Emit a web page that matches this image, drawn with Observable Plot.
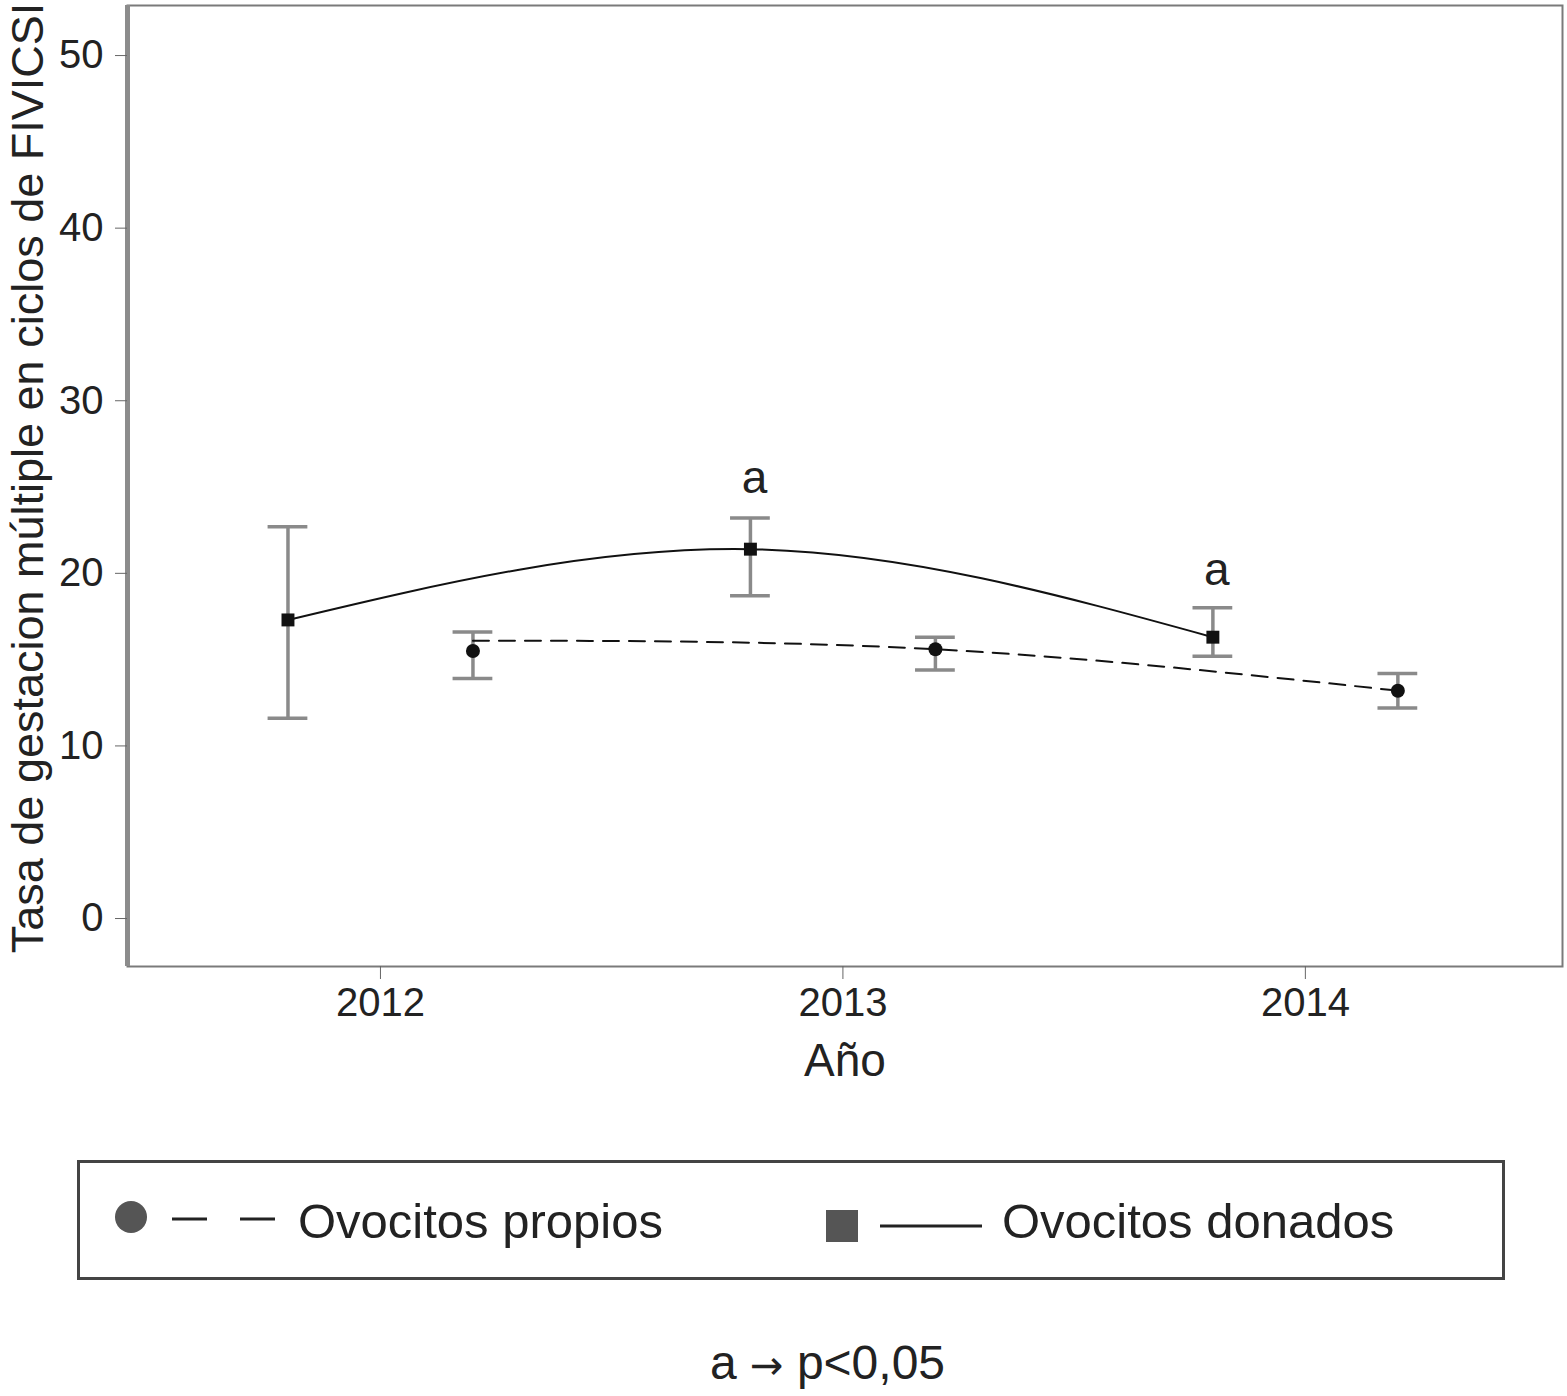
<!DOCTYPE html>
<html>
<head>
<meta charset="utf-8">
<script src="https://cdn.jsdelivr.net/npm/d3@7"></script>
<script src="https://cdn.jsdelivr.net/npm/@observablehq/plot@0.6"></script>
<style>
  body { margin: 0; background: #fff; font-family: "Liberation Sans", Arial, sans-serif; color: #222; }
  #page { position: relative; width: 1567px; height: 1396px; }
  #chart svg { display: block; }
  #legend { position: absolute; left: 77px; top: 1160px; width: 1422px; height: 114px; border: 3px solid #444; }
  #note { position: absolute; left: 710px; top: 1335px; font-size: 48px; white-space: nowrap; }
  #note .arr { font-family: "DejaVu Sans", sans-serif; font-size: 40px; }
</style>
</head>
<body>
<div id="page">
  <div id="chart"></div>
  <div id="legend"></div>
  <div id="note">a <span class="arr">→</span> p&lt;0,05</div>
</div>
<script>
// values
const years = [2012, 2013, 2014];
const donadosMean = [17.3, 21.4, 16.3];
const donadosLow = [11.6, 18.7, 15.2];
const donadosHigh = [22.7, 23.2, 18.0];
const donadosFit = [17.3, 21.4, 16.3];
const propiosMean = [15.5, 15.6, 13.2];
const propiosLow = [13.9, 14.4, 12.2];
const propiosHigh = [16.6, 16.3, 14.2];
const propiosFit = [16.1, 15.6, 13.2];
const yTicks = [0, 10, 20, 30, 40, 50];
const sigYears = [2013, 2014];
const sigLabels = ["a", "a"];
const sigY = [25.5, 20.2];
const yLabel = "Tasa de gestacion múltiple en ciclos de FIVICSI";
const xLabel = "Año";
const legendLabels = ["Ovocitos propios", "Ovocitos donados"];

const dodge = 0.2;      // groups drawn either side of the year
const cap = 0.043;      // half width of error bar caps, in years
const xDomain = [2011.453, 2014.556];

const donados = years.map((yr, i) => ({x: yr - dodge, mean: donadosMean[i], lo: donadosLow[i], hi: donadosHigh[i], fit: donadosFit[i]}));
const propios = years.map((yr, i) => ({x: yr + dodge, mean: propiosMean[i], lo: propiosLow[i], hi: propiosHigh[i], fit: propiosFit[i]}));
const all = donados.concat(propios);
const sig = sigYears.map((yr, i) => ({x: yr - dodge, y: sigY[i], t: sigLabels[i]}));

const errStyle = {stroke: "#8a8a8a", strokeWidth: 3.5};

const p = Plot.plot({
  width: 1567,
  height: 1100,
  marginTop: 5,
  marginLeft: 127,
  marginRight: 5,
  marginBottom: 134,
  style: {fontFamily: "Liberation Sans, Arial, sans-serif", fontSize: "40px", color: "#222", background: "#fff"},
  x: {domain: xDomain},
  y: {domain: [-2.78, 52.9]},
  marks: [
    Plot.frame({stroke: "#7a7a7a", strokeWidth: 2}),
    Plot.ruleX([xDomain[0]], {stroke: "#8c8c8c", strokeWidth: 5}),
    Plot.axisY({ticks: yTicks, tickSize: 12, tickPadding: 12, stroke: "#666", label: null, fontSize: 40}),
    Plot.axisX({ticks: years, tickFormat: d => String(d), tickSize: 13, tickPadding: 8, stroke: "#666", label: null, fontSize: 40}),
    Plot.ruleX(all, {x: "x", y1: "lo", y2: "hi", ...errStyle}),
    Plot.ruleY(all, {y: "hi", x1: d => d.x - cap, x2: d => d.x + cap, ...errStyle}),
    Plot.ruleY(all, {y: "lo", x1: d => d.x - cap, x2: d => d.x + cap, ...errStyle}),
    Plot.line(donados, {x: "x", y: "fit", curve: "natural", stroke: "#111", strokeWidth: 2}),
    Plot.line(propios, {x: "x", y: "fit", curve: "natural", stroke: "#111", strokeWidth: 2, strokeDasharray: "16,10"}),
    Plot.dot(donados, {x: "x", y: "mean", symbol: "square", r: 7.3, fill: "#111"}),
    Plot.dot(propios, {x: "x", y: "mean", r: 7, fill: "#111"}),
    Plot.text(sig, {x: "x", y: "y", text: "t", fontSize: 46, fill: "#222", dx: 4}),
    Plot.text([yLabel], {frameAnchor: "left", textAnchor: "middle", rotate: -90, dx: -99, dy: -8, fontSize: 45, fill: "#222"}),
    Plot.text([xLabel], {frameAnchor: "bottom", dy: 109, fontSize: 46, fill: "#222"})
  ]
});
document.getElementById("chart").append(p);

// legend box
const lg = d3.select("#legend").append("svg").attr("width", 1422).attr("height", 114);
lg.append("circle").attr("cx", 51).attr("cy", 54).attr("r", 16).attr("fill", "#555");
lg.append("line").attr("x1", 92).attr("x2", 127).attr("y1", 56).attr("y2", 56).attr("stroke", "#222").attr("stroke-width", 3);
lg.append("line").attr("x1", 160).attr("x2", 195).attr("y1", 56).attr("y2", 56).attr("stroke", "#222").attr("stroke-width", 3);
lg.append("text").attr("x", 218).attr("y", 75).attr("font-size", 49).attr("fill", "#222").text(legendLabels[0]);
lg.append("rect").attr("x", 746).attr("y", 47).attr("width", 32).attr("height", 32).attr("fill", "#555");
lg.append("line").attr("x1", 800).attr("x2", 902).attr("y1", 63).attr("y2", 63).attr("stroke", "#222").attr("stroke-width", 3);
lg.append("text").attr("x", 922).attr("y", 75).attr("font-size", 49).attr("fill", "#222").text(legendLabels[1]);
</script>
</body>
</html>
